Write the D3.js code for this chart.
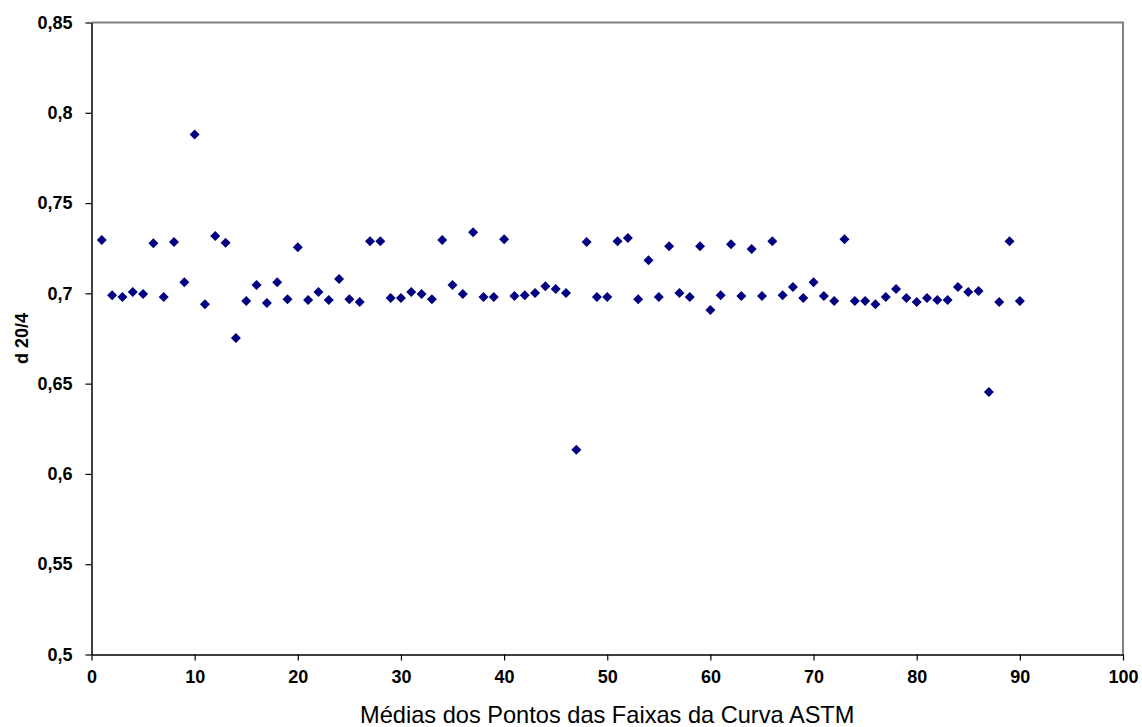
<!DOCTYPE html>
<html>
<head>
<meta charset="utf-8">
<script src="https://cdn.jsdelivr.net/npm/d3@7"></script>
<style>
  body { margin: 0; background: #fff; }
  svg { display: block; font-family: "Liberation Sans", Arial, sans-serif; }
</style>
</head>
<body>
<div id="chart"></div>
<script>
// x = point index, y = d 20/4
const xValues = d3.range(1, 91);
const yValues = [
  0.7295, 0.699, 0.698, 0.7007, 0.6996, 0.7278, 0.698, 0.7284, 0.7062, 0.788,
  0.694, 0.7317, 0.728, 0.6753, 0.6957, 0.7046, 0.6946, 0.7062, 0.6968, 0.7256,
  0.6963, 0.7007, 0.6963, 0.7079, 0.6968, 0.6952, 0.7289, 0.7289, 0.6974, 0.6974,
  0.7007, 0.6996, 0.6968, 0.7295, 0.7046, 0.6996, 0.7339, 0.698, 0.698, 0.730,
  0.6985, 0.699, 0.7002, 0.704, 0.7024, 0.7002, 0.6134, 0.7284, 0.698, 0.698,
  0.7289, 0.7306, 0.6968, 0.7184, 0.698, 0.7261, 0.7002, 0.698, 0.7261, 0.6908,
  0.699, 0.7272, 0.6985, 0.7245, 0.6985, 0.7289, 0.699, 0.7035, 0.6974, 0.7062,
  0.6985, 0.6957, 0.730, 0.6957, 0.6957, 0.694, 0.698, 0.7024, 0.6974, 0.6952,
  0.6974, 0.6963, 0.6963, 0.7035, 0.7007, 0.7013, 0.6454, 0.6952, 0.7289, 0.6957
];
const xTicks = [0, 10, 20, 30, 40, 50, 60, 70, 80, 90, 100];
const yTicks = [0.5, 0.55, 0.6, 0.65, 0.7, 0.75, 0.8, 0.85];
const xTitle = "Médias dos Pontos das Faixas da Curva ASTM";
const yTitle = "d 20/4";

const width = 1142, height = 727;
const margin = { top: 22.5, right: 19, bottom: 72.5, left: 91.5 };

const svg = d3.select("#chart").append("svg")
  .attr("width", width)
  .attr("height", height);

const x = d3.scaleLinear().domain([0, 100]).range([margin.left, width - margin.right]);
const y = d3.scaleLinear().domain([0.5, 0.85]).range([height - margin.bottom, margin.top]);

const fmt = d => d3.format("")(+d.toFixed(2)).replace(".", ",");

// plot frame: grey top and right
svg.append("path")
  .attr("d", `M${x(0)},${y(0.85)}H${x(100)}V${y(0.5)}`)
  .attr("fill", "none")
  .attr("stroke", "#808080")
  .attr("stroke-width", 2);

const xAxis = svg.append("g")
  .attr("transform", `translate(0,${y(0.5)})`)
  .call(d3.axisBottom(x).tickValues(xTicks).tickSize(6).tickPadding(10).tickSizeOuter(0));

const yAxis = svg.append("g")
  .attr("transform", `translate(${x(0)},0)`)
  .call(d3.axisLeft(y).tickValues(yTicks).tickFormat(fmt).tickSize(6).tickPadding(13).tickSizeOuter(0));

[xAxis, yAxis].forEach(g => {
  g.select(".domain").attr("stroke", "#000").attr("stroke-width", 1.5);
  g.selectAll(".tick line").attr("stroke", "#000").attr("stroke-width", 1.2);
  g.selectAll("text")
    .attr("fill", "#000")
    .style("font-size", "18px")
    .style("font-weight", "bold")
    .style("font-family", '"Liberation Sans", Arial, sans-serif');
});

// markers
svg.append("g")
  .selectAll("path")
  .data(xValues)
  .join("path")
  .attr("d", d3.symbol(d3.symbolSquare, 50))
  .attr("transform", (d, i) => `translate(${x(d)},${y(yValues[i])}) rotate(45)`)
  .attr("fill", "#000080");

svg.append("text")
  .attr("x", (x(0) + x(100)) / 2)
  .attr("y", 723)
  .attr("text-anchor", "middle")
  .style("font-size", "23.6px")
  .attr("fill", "#000")
  .text(xTitle);

svg.append("text")
  .attr("transform", `translate(28,${(y(0.5) + y(0.85)) / 2}) rotate(-90)`)
  .attr("text-anchor", "middle")
  .style("font-size", "18px")
  .style("font-weight", "bold")
  .attr("fill", "#000")
  .text(yTitle);
</script>
</body>
</html>
